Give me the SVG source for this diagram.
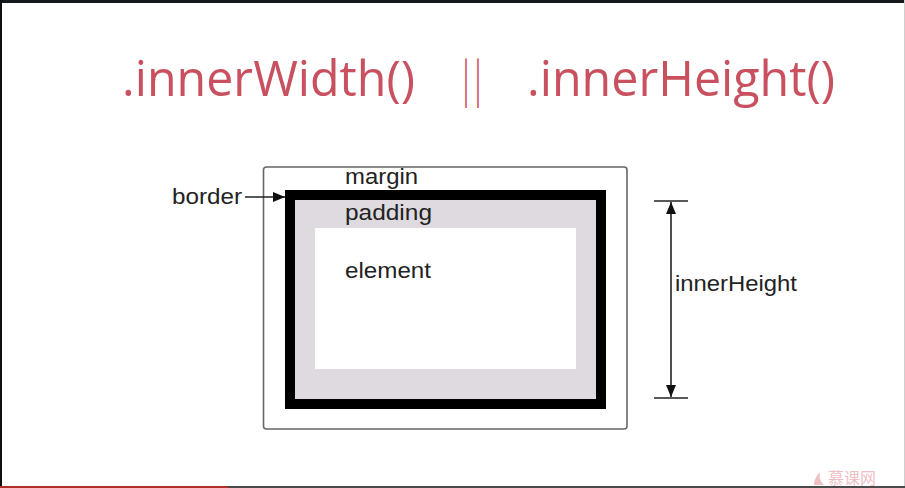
<svg xmlns="http://www.w3.org/2000/svg" width="905" height="488" viewBox="0 0 905 488">
  <defs>
    <style>
      .title { font-family: "Open Sans", "Liberation Sans", sans-serif; font-size: 50px; fill: #c8505f; }
      .lbl { font-family: "Liberation Sans", Arial, sans-serif; font-size: 22px; fill: #222; }
      .dim { stroke: #222; stroke-width: 1.6; fill: none; }
    </style>
    <marker id="arrow" viewBox="0 0 12 10" refX="12" refY="5" markerWidth="12" markerHeight="10" markerUnits="userSpaceOnUse" orient="auto-start-reverse">
      <path d="M0,0 L12,5 L0,10 Z" fill="#111"/>
    </marker>
  </defs>

  <!-- page background and frame edges -->
  <rect width="905" height="488" fill="#ffffff"/>
  <rect x="0" y="0" width="905" height="3" fill="#15191c"/>
  <rect x="0" y="0" width="2" height="488" fill="#0d0f10"/>
  <rect x="904" y="0" width="1" height="488" fill="#cfcfcf"/>
  <rect x="0" y="486" width="905" height="2" fill="#4a4a4a"/>
  <rect x="0" y="486" width="228" height="2" fill="#b0302a"/>

  <!-- heading -->
  <g id="heading">
    <text class="title" x="122" y="96" textLength="293" lengthAdjust="spacingAndGlyphs">.innerWidth()</text>
    <text class="title" x="460" y="96" textLength="24" lengthAdjust="spacingAndGlyphs">||</text>
    <text class="title" x="527" y="96" textLength="308" lengthAdjust="spacingAndGlyphs">.innerHeight()</text>
  </g>

  <!-- box model -->
  <g id="margin-box">
    <rect x="263.5" y="167" width="363.5" height="262" rx="3" fill="#fff" stroke="#666" stroke-width="1.6"/>
    <text class="lbl" x="345" y="184" textLength="73" lengthAdjust="spacingAndGlyphs">margin</text>
  </g>
  <g id="border-box">
    <rect x="290" y="195" width="311" height="209" fill="#dedadf" stroke="#000" stroke-width="10"/>
    <text class="lbl" x="345" y="220" textLength="87" lengthAdjust="spacingAndGlyphs">padding</text>
  </g>
  <g id="element-box">
    <rect x="315" y="228" width="261" height="141" fill="#ffffff"/>
    <text class="lbl" x="345" y="278" textLength="86" lengthAdjust="spacingAndGlyphs">element</text>
  </g>
  <g id="border-label">
    <text class="lbl" x="172" y="204" textLength="70" lengthAdjust="spacingAndGlyphs">border</text>
  </g>
  <g id="inner-height-label">
    <text class="lbl" x="675" y="291" textLength="122" lengthAdjust="spacingAndGlyphs">innerHeight</text>
  </g>

  <!-- connectors -->
  <g id="connectors">
    <line class="dim" x1="245" y1="197" x2="285" y2="197" marker-end="url(#arrow)"/>
    <line class="dim" x1="654" y1="201" x2="688" y2="201"/>
    <line class="dim" x1="654" y1="398" x2="688" y2="398"/>
    <line class="dim" x1="671" y1="202" x2="671" y2="397" marker-start="url(#arrow)" marker-end="url(#arrow)"/>
  </g>

  <!-- watermark -->
  <g id="watermark" opacity="0.4">
    <path d="M814,485 Q814,478 820,472 Q818,480 824,485 Z" fill="#d9606a"/>
    <text x="828" y="484" font-family="'Noto Sans CJK SC', sans-serif" font-size="16" fill="#d9606a">慕课网</text>
  </g>
</svg>
